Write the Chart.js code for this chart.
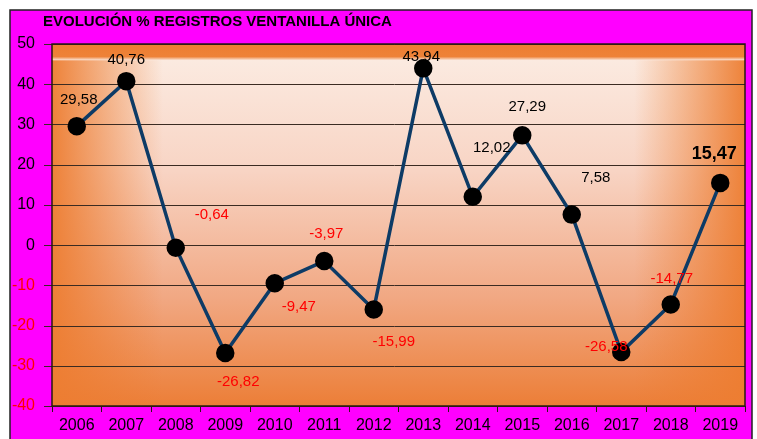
<!DOCTYPE html>
<html>
<head>
<meta charset="utf-8">
<script src="https://cdn.jsdelivr.net/npm/chart.js@4.4.1/dist/chart.umd.min.js"></script>
<style>
  html, body { margin:0; padding:0; background:#fff; }
  #wrap { width:757px; height:439px; }
</style>
</head>
<body>
<div id="wrap"><canvas id="chart" width="757" height="439"></canvas></div>
<script>
// datos
const years = ["2006","2007","2008","2009","2010","2011","2012","2013","2014","2015","2016","2017","2018","2019"];
const values = [29.58, 40.76, -0.64, -26.82, -9.47, -3.97, -15.99, 43.94, 12.02, 27.29, 7.58, -26.58, -14.77, 15.47];
const yTicks = [50, 40, 30, 20, 10, 0, -10, -20, -30, -40];
const chartTitle = "EVOLUCIÓN % REGISTROS VENTANILLA ÚNICA";

// desplazamiento de cada etiqueta respecto a su punto (px)
const labelOffsets = [[2,-26],[0,-21],[36,-33],[13,29],[24,24],[2,-27],[20,32],[-2,-12],[19,-49],[5,-28],[24,-37],[-15,-5],[1,-26],[-6,-29]];

const fmt = v => v.toFixed(2).replace(".", ",");

// marco magenta + fondo degradado del area
const framePlugin = {
  id: "frame",
  beforeDraw(chart) {
    const c = chart.ctx;
    c.save();
    c.fillStyle = "#fff";
    c.fillRect(0, 0, chart.width, chart.height);
    c.fillStyle = "#FF00FF";
    c.fillRect(10, 10, 742, 440);
    c.strokeStyle = "#222";
    c.lineWidth = 1.5;
    c.strokeRect(10, 10, 742, 440);

    c.font = "bold 15px 'Liberation Sans', Arial, sans-serif";
    c.fillStyle = "#000";
    c.textBaseline = "middle";
    c.fillText(chartTitle, 43, 22);
    c.restore();
  },
  beforeDatasetsDraw(chart) {
    const a = chart.chartArea;
    const c = chart.ctx;
    const h = a.bottom - a.top, w = a.right - a.left;
    c.save();
    let g = c.createLinearGradient(0, a.top, 0, a.bottom);
    g.addColorStop(0, "#ED7D31");
    g.addColorStop(0.035, "#EE8238");
    g.addColorStop(0.045, "#FBEAE0");
    g.addColorStop(0.35, "#F8D4C4");
    g.addColorStop(0.7, "#F1A883");
    g.addColorStop(1, "#EC7E37");
    c.fillStyle = g;
    c.fillRect(a.left, a.top, w, h);
    let gx = c.createLinearGradient(a.left, 0, a.right, 0);
    gx.addColorStop(0, "rgba(237,125,49,0.95)");
    gx.addColorStop(0.16, "rgba(237,125,49,0)");
    gx.addColorStop(0.84, "rgba(237,125,49,0)");
    gx.addColorStop(1, "rgba(237,125,49,0.95)");
    c.fillStyle = gx;
    c.fillRect(a.left, a.top + h * 0.045, w, h * 0.955);
    // lineas de division
    const y = chart.scales.y;
    c.strokeStyle = "#3b2b22";
    c.lineWidth = 1;
    yTicks.forEach(t => {
      const py = Math.round(y.getPixelForValue(t)) + 0.5;
      c.beginPath();
      c.moveTo(a.left - 8, py);
      c.lineTo(a.right, py);
      c.stroke();
    });
    c.lineWidth = 1.5;
    c.strokeStyle = "#2a1a12";
    c.strokeRect(a.left, a.top, w, h);
    c.restore();
  },
  afterDatasetsDraw(chart) {
    const meta = chart.getDatasetMeta(0);
    const c = chart.ctx;
    c.save();
    c.textAlign = "center";
    c.textBaseline = "middle";
    meta.data.forEach((pt, i) => {
      const v = values[i];
      const last = i === values.length - 1;
      c.font = (last ? "bold 18px" : "15px") + " 'Liberation Sans', Arial, sans-serif";
      c.fillStyle = v < 0 ? "#FF0000" : "#000";
      const o = labelOffsets[i];
      c.fillText(fmt(v), pt.x + o[0], pt.y + o[1]);
    });
    c.restore();
  }
};

new Chart(document.getElementById("chart"), {
  type: "line",
  data: {
    labels: years,
    datasets: [{
      data: values,
      borderColor: "#0D3B66",
      borderWidth: 3.5,
      pointBackgroundColor: "#000",
      pointBorderColor: "#000",
      pointRadius: 7.5,
      tension: 0
    }]
  },
  options: {
    responsive: false,
    animation: false,
    layout: { padding: { left: 0, top: 44, right: 12, bottom: 0 } },
    plugins: { legend: { display: false }, tooltip: { enabled: false }, title: { display: false } },
    scales: {
      x: {
        offset: true,
        grid: { offset: true, drawOnChartArea: false, color: "#2a1a12", tickLength: 6 },
        border: { display: false },
        ticks: { color: "#000", font: { size: 16, family: "'Liberation Sans', Arial, sans-serif" }, padding: 4, maxRotation: 0 },
        afterFit: s => { s.height = 33; }
      },
      y: {
        min: -40, max: 50,
        grid: { display: false },
        border: { display: false },
        afterBuildTicks: s => { s.ticks = yTicks.map(v => ({ value: v })); },
        ticks: {
          color: ctx => ctx.tick.value < 0 ? "#FF0000" : "#000",
          font: { size: 16, family: "'Liberation Sans', Arial, sans-serif" },
          padding: 9
        },
        afterFit: s => { s.width = 52; }
      }
    }
  },
  plugins: [framePlugin]
});
</script>
</body>
</html>
